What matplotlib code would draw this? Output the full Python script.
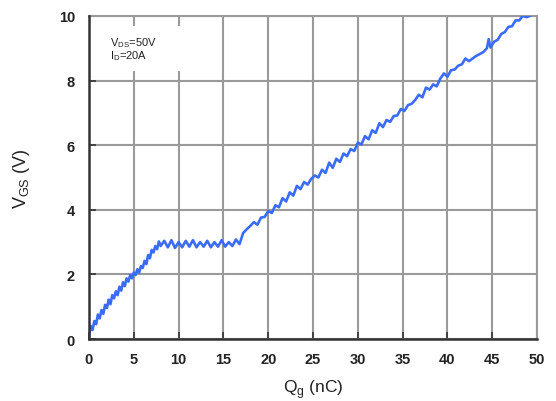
import matplotlib
matplotlib.use("Agg")
import matplotlib.pyplot as plt
from matplotlib.patches import Rectangle

plt.rcParams['font.family'] = ['Liberation Sans', 'DejaVu Sans']

# Gate charge (nC) and gate-source voltage (V)
qg = [0.0, 0.2, 0.4, 0.6, 0.8, 1.0, 1.2, 1.4, 1.6, 1.8, 2.0, 2.2, 2.4, 2.6, 2.8, 3.0,
      3.2, 3.4, 3.6, 3.8, 4.0, 4.2, 4.4, 4.6, 4.8, 5.0, 5.2, 5.4, 5.6, 5.8, 6.0, 6.2,
      6.4, 6.6, 6.8, 7.0, 7.2, 7.4, 7.6, 7.8, 8.0, 8.4, 8.8, 9.2, 9.6, 10.0, 10.4, 10.8,
      11.2, 11.6, 12.0, 12.4, 12.8, 13.2, 13.6, 14.0, 14.4, 14.8, 15.2, 15.6, 16.0,
      16.4, 16.8, 17.2, 17.6, 18.0, 18.4, 18.8, 19.2, 19.6, 20.0, 20.4, 20.8, 21.2,
      21.6, 22.0, 22.4, 22.8, 23.2, 23.6, 24.0, 24.4, 24.8, 25.2, 25.6, 26.0, 26.4,
      26.8, 27.2, 27.6, 28.0, 28.4, 28.8, 29.2, 29.6, 30.0, 30.4, 30.8, 31.2, 31.6,
      32.0, 32.4, 32.8, 33.2, 33.6, 34.0, 34.4, 34.8, 35.2, 35.6, 36.0, 36.4, 36.8,
      37.2, 37.6, 38.0, 38.4, 38.8, 39.2, 39.6, 40.0, 40.4, 40.8, 41.2, 41.6, 42.0,
      42.4, 42.8, 43.2, 43.6, 44.0, 44.4, 44.6, 44.8, 45.2, 45.6, 46.0, 46.4, 46.8,
      47.2, 47.6, 48.0, 48.4, 48.8, 49.2]
vgs = [0.10, 0.40, 0.28, 0.56, 0.46, 0.76, 0.64, 0.90, 0.78, 1.06, 0.96, 1.22, 1.08, 1.36, 1.26, 1.48,
       1.36, 1.62, 1.50, 1.76, 1.64, 1.88, 1.78, 1.98, 1.88, 2.06, 1.98, 2.16, 2.06, 2.26, 2.20, 2.42,
       2.32, 2.60, 2.50, 2.76, 2.68, 2.88, 2.78, 3.02, 2.88, 3.04, 2.84, 3.06, 2.82, 3.00, 2.84, 3.04,
       2.86, 3.06, 2.84, 3.00, 2.86, 3.04, 2.84, 3.00, 2.86, 3.06, 2.86, 3.00, 2.88,
       3.08, 2.94, 3.28, 3.40, 3.50, 3.62, 3.54, 3.76, 3.78, 3.96, 3.90, 4.14, 4.08,
       4.36, 4.26, 4.54, 4.44, 4.74, 4.64, 4.86, 4.78, 4.96, 5.06, 5.00, 5.24, 5.14,
       5.46, 5.30, 5.58, 5.48, 5.74, 5.66, 5.88, 5.82, 6.08, 6.02, 6.28, 6.18, 6.46,
       6.38, 6.68, 6.56, 6.78, 6.72, 6.90, 6.92, 7.12, 7.06, 7.24, 7.28, 7.40, 7.56,
       7.48, 7.78, 7.72, 7.88, 7.82, 8.06, 8.22, 8.12, 8.32, 8.34, 8.46, 8.50, 8.68,
       8.60, 8.68, 8.76, 8.82, 8.88, 9.00, 9.28, 9.02, 9.20, 9.26, 9.44, 9.50, 9.66,
       9.68, 9.86, 9.86, 10.0, 9.96, 10.0]

xticks = [0, 5, 10, 15, 20, 25, 30, 35, 40, 45, 50]
yticks = [0, 2, 4, 6, 8, 10]

fig = plt.figure(figsize=(5.56, 4.02), dpi=100)
ax = fig.add_axes([0.160, 0.154, 0.806, 0.804])

ax.set_xlim(0, 50)
ax.set_ylim(0, 10)
ax.set_xticks(xticks)
ax.set_yticks(yticks)
ax.grid(True, color='#9a9a9a', linewidth=1.5, zorder=0)
ax.set_axisbelow(True)

ax.add_patch(Rectangle((0.15, 8.28), 10.9, 1.42, facecolor='white', edgecolor='none', zorder=1.5))

ax.plot(qg, vgs, color='#3a6cf7', linewidth=1.9, zorder=3, clip_on=True)

for side in ['top', 'right']:
    ax.spines[side].set_color('#9a9a9a')
    ax.spines[side].set_linewidth(1.5)
for side in ['left', 'bottom']:
    ax.spines[side].set_color('#333333')
    ax.spines[side].set_linewidth(1.8)
    ax.spines[side].set_zorder(4)

ax.tick_params(direction='in', length=5, width=1.2, color='#333333',
               labelsize=10.5, labelcolor='#222222', pad=10)
ax.tick_params(axis='x', pad=9)
for lab in ax.get_xticklabels() + ax.get_yticklabels():
    lab.set_fontweight('bold')

ax.set_xlabel(r'Q$_\mathregular{g}$ (nC)', fontsize=12.5, color='#222222', labelpad=8)
ax.set_ylabel(r'V$_\mathregular{GS}$ (V)', fontsize=13, color='#222222', labelpad=19)

ax.text(2.3, 9.1, r'V$_\mathregular{DS}$=50V', fontsize=8, color='#222222', zorder=5)
ax.text(2.3, 8.68, r'I$_\mathregular{D}$=20A', fontsize=8, color='#222222', zorder=5)

fig.savefig('out.png', dpi=100)
